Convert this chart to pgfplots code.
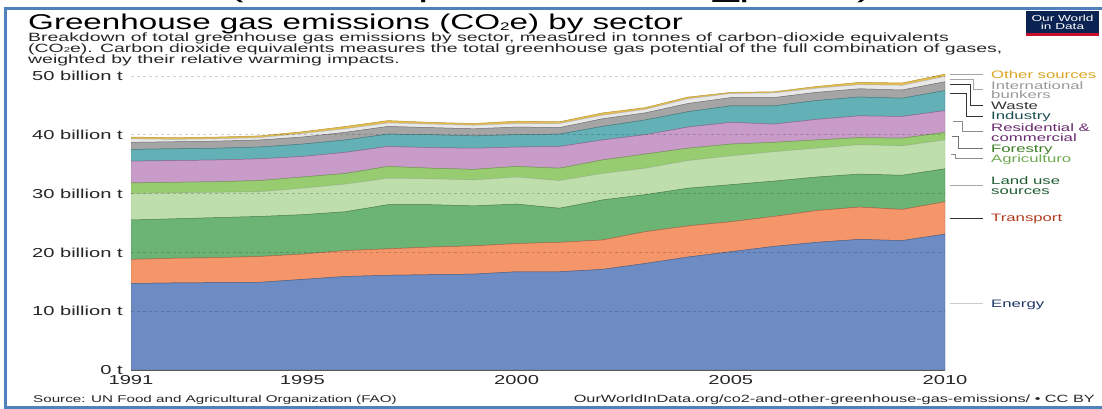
\documentclass[border=0pt]{standalone}
\usepackage{pgfplots}
\pgfplotsset{compat=1.18}
\usepackage{pgfplotstable}
\usepackage{fontspec}
\setmainfont{Liberation Sans}[FakeStretch=1.55]
\newfontfamily\subfont{Liberation Sans}[FakeStretch=1.62]

\definecolor{cEnergy}{HTML}{6D8CC4}
\definecolor{cTransport}{HTML}{F4956A}
\definecolor{cLand}{HTML}{6CB474}
\definecolor{cAgri}{HTML}{BEDFAC}
\definecolor{cForest}{HTML}{98CC70}
\definecolor{cResid}{HTML}{C89BC8}
\definecolor{cIndustry}{HTML}{63B1B7}
\definecolor{cWaste}{HTML}{A5A5A5}
\definecolor{cBunkers}{HTML}{E8E8E8}
\definecolor{cOther}{HTML}{E6BE4C}
\definecolor{frameblue}{HTML}{4F81BD}
\definecolor{owidnavy}{HTML}{0B2352}
\definecolor{owidred}{HTML}{C8102E}

% billion tonnes CO2e per sector
\pgfplotstableread{
year energy transport land agri forest resid industry waste bunkers other
1991 14.7  4.1  6.7 4.5 1.8 3.7 2.0 1.2 0.6 0.3
1992 14.8  4.2  6.7 4.4 1.8 3.7 2.0 1.2 0.4 0.3
1993 14.85 4.25 6.8 4.3 1.8 3.7 2.0 1.2 0.4 0.3
1994 14.9  4.4  6.8 4.2 1.9 3.7 2.0 1.2 0.4 0.3
1995 15.4  4.3  6.7 4.5 1.9 3.5 2.1 1.2 0.6 0.3
1996 15.9  4.4  6.6 4.7 1.8 3.6 2.1 1.3 0.6 0.4
1997 16.1  4.5  7.5 4.5 2.0 3.4 2.1 1.3 0.6 0.4
1998 16.2  4.7  7.2 4.4 1.8 3.5 2.2 1.2 0.6 0.3
1999 16.3  4.8  6.8 4.4 1.8 3.6 2.1 1.2 0.6 0.3
2000 16.7  4.8  6.7 4.6 1.8 3.3 2.1 1.3 0.6 0.4
2001 16.7  5.0  5.8 4.7 2.1 3.7 2.1 1.1 0.7 0.3
2002 17.1  5.0  6.8 4.5 2.3 3.4 2.3 1.3 0.6 0.4
2003 18.1  5.4  6.3 4.5 2.4 3.3 2.5 1.2 0.6 0.3
2004 19.2  5.3  6.4 4.7 2.1 3.6 2.6 1.4 0.8 0.3
2005 20.1  5.1  6.3 4.9 2.0 3.7 2.8 1.4 0.7 0.2
2006 21.0  5.1  6.0 5.0 1.6 3.1 3.1 1.4 0.8 0.2
2007 21.7  5.4  5.7 4.9 1.4 3.5 3.2 1.4 0.7 0.3
2008 22.2  5.5  5.6 5.0 1.2 3.7 3.2 1.4 0.7 0.4
2009 22.0  5.3  5.8 5.0 1.3 3.7 3.1 1.4 0.8 0.4
2010 23.1  5.5  5.6 4.9 1.3 3.7 3.4 1.5 0.9 0.4
}\ghg

\newcommand{\fs}[1]{\fontsize{#1bp}{#1bp}\selectfont}

\begin{document}
\begin{tikzpicture}
\useasboundingbox (0,0) rectangle (1102bp,-409bp);

% cut-off line above the frame
\foreach \x/\t in {228/(, 418/p, 713/\_p, 857/)}
  \node[anchor=base west, inner sep=0pt, font=\fs{30}] at (\x bp,4bp) {\t};

% frame
\draw[frameblue, line width=3bp] (5bp,-409bp) -- (5bp,-8bp) -- (1102bp,-8bp);
\draw[frameblue, line width=3bp] (5bp,-407.5bp) -- (1102bp,-407.5bp);

% titles
\node[anchor=base west, inner sep=0pt, font=\fs{21.4}] at (28bp,-29bp)
  {Greenhouse gas emissions (CO{\fs{11}\raisebox{-1bp}{2}}e) by sector};
\begin{scope}[every node/.style={anchor=base west, inner sep=0pt, font=\subfont\fs{12}, text=black!85}]
\node at (28bp,-41bp) {Breakdown of total greenhouse gas emissions by sector, measured in tonnes of carbon-dioxide equivalents};
\node at (28bp,-52bp) {(CO{\fs{7}\raisebox{-0.5bp}{2}}e). Carbon dioxide equivalents measures the total greenhouse gas potential of the full combination of gases,};
\node at (28bp,-63bp) {weighted by their relative warming impacts.};
\end{scope}

% logo
\fill[owidnavy] (1026bp,-11bp) rectangle (1099bp,-33bp);
\fill[owidred] (1026bp,-33bp) rectangle (1099bp,-36bp);
\node[text=white, font=\fs{8.8}, align=center, inner sep=0pt] at (1062.5bp,-22bp)
  {Our World\\[-1bp]in Data};

\begin{axis}[
  at={(131bp,-370bp)}, anchor=south west,
  scale only axis, width=814bp, height=300bp,
  xmin=1991, xmax=2010, ymin=0, ymax=51,
  stack plots=y,
  axis x line*=bottom, axis y line*=left,
  x axis line style={-, draw=black!65, line width=0.8bp},
  y axis line style={draw=none},
  xtick={1991,1995,2000,2005,2010},
  xticklabels={1991,1995,2000,2005,2010},
  ytick={0,10,20,30,40,50},
  yticklabels={0 t,10 billion t,20 billion t,30 billion t,40 billion t,50 billion t},
  major tick length=0pt, tick style={draw=none},
  ymajorgrids, grid style={dashed, black, opacity=0.18, line width=0.6bp},
  axis on top,
  tick label style={font=\fs{13}, text=black!85, inner sep=0pt},
  yticklabel style={anchor=east, xshift=-8bp},
  xticklabel style={anchor=north, yshift=-5.5bp},
]
\addplot[fill=cEnergy, draw=cEnergy!70!black, line width=0.5bp] table[x=year,y=energy]{\ghg} \closedcycle;
\addplot[fill=cTransport, draw=cTransport!70!black, line width=0.5bp] table[x=year,y=transport]{\ghg} \closedcycle;
\addplot[fill=cLand, draw=cLand!70!black, line width=0.5bp] table[x=year,y=land]{\ghg} \closedcycle;
\addplot[fill=cAgri, draw=cAgri!85!black, line width=0.5bp] table[x=year,y=agri]{\ghg} \closedcycle;
\addplot[fill=cForest, draw=cForest!75!black, line width=0.5bp] table[x=year,y=forest]{\ghg} \closedcycle;
\addplot[fill=cResid, draw=cResid!70!black, line width=0.5bp] table[x=year,y=resid]{\ghg} \closedcycle;
\addplot[fill=cIndustry, draw=cIndustry!70!black, line width=0.5bp] table[x=year,y=industry]{\ghg} \closedcycle;
\addplot[fill=cWaste, draw=cWaste!70!black, line width=0.5bp] table[x=year,y=waste]{\ghg} \closedcycle;
\addplot[fill=cBunkers, draw=cBunkers!80!black, line width=0.5bp] table[x=year,y=bunkers]{\ghg} \closedcycle;
\addplot[fill=cOther, draw=cOther!80!black, line width=0.5bp] table[x=year,y=other]{\ghg} \closedcycle;
\end{axis}

% right-hand labels with leader lines
\begin{scope}[line width=0.8bp]
\draw[black!35] (950bp,-74bp) -- (983bp,-74bp);
\draw[black!35] (950bp,-79bp) -- (973bp,-79bp) -- (973bp,-89bp) -- (983bp,-89bp);
\draw[black!80] (950bp,-84bp) -- (970bp,-84bp) -- (970bp,-105bp) -- (983bp,-105bp);
\draw[black!80] (950bp,-93bp) -- (966bp,-93bp) -- (966bp,-116bp) -- (983bp,-116bp);
\draw[black!45] (953bp,-121bp) -- (962bp,-121bp) -- (962bp,-131bp) -- (983bp,-131bp);
\draw[black!55] (952bp,-136bp) -- (958bp,-136bp) -- (958bp,-148bp) -- (983bp,-148bp);
\draw[black!45] (951bp,-154bp) -- (955bp,-154bp) -- (955bp,-158bp) -- (983bp,-158bp);
\draw[black!35] (950bp,-185bp) -- (983bp,-185bp);
\draw[black!80] (950bp,-218bp) -- (983bp,-218bp);
\draw[black!20] (950bp,-303bp) -- (983bp,-303bp);
\end{scope}
\begin{scope}[every node/.style={anchor=base west, inner sep=0pt, font=\fs{10.8}}]
\node[text={rgb,255:red,218;green,165;blue,32}] at (991bp,-78bp) {Other sources};
\node[text=black!40] at (991bp,-89bp) {International};
\node[text=black!40] at (991bp,-98bp) {bunkers};
\node[text=black!80] at (991bp,-109bp) {Waste};
\node[text={rgb,255:red,26;green,77;blue,80}] at (991bp,-119.5bp) {Industry};
\node[text={rgb,255:red,106;green,44;blue,112}] at (991bp,-131.5bp) {Residential \&};
\node[text={rgb,255:red,106;green,44;blue,112}] at (991bp,-141.5bp) {commercial};
\node[text={rgb,255:red,58;green,125;blue,34}] at (991bp,-152bp) {Forestry};
\node[text={rgb,255:red,110;green,170;blue,80}] at (991bp,-162.5bp) {Agriculturo};
\node[text={rgb,255:red,30;green,92;blue,48}] at (991bp,-184bp) {Land use};
\node[text={rgb,255:red,30;green,92;blue,48}] at (991bp,-194.5bp) {sources};
\node[text={rgb,255:red,176;green,58;blue,30}] at (991bp,-221.5bp) {Transport};
\node[text={rgb,255:red,31;green,53;blue,102}] at (991bp,-307bp) {Energy};
\end{scope}

% footer
\node[anchor=base west, inner sep=0pt, font=\fs{9.8}, text=black!85] at (33bp,-402bp)
  {Source: UN Food and Agricultural Organization (FAO)};
\node[anchor=base east, inner sep=0pt, font=\fs{10.5}, text=black!85] at (1095bp,-402bp)
  {OurWorldInData.org/co2-and-other-greenhouse-gas-emissions/ • CC BY};
\end{tikzpicture}
\end{document}
